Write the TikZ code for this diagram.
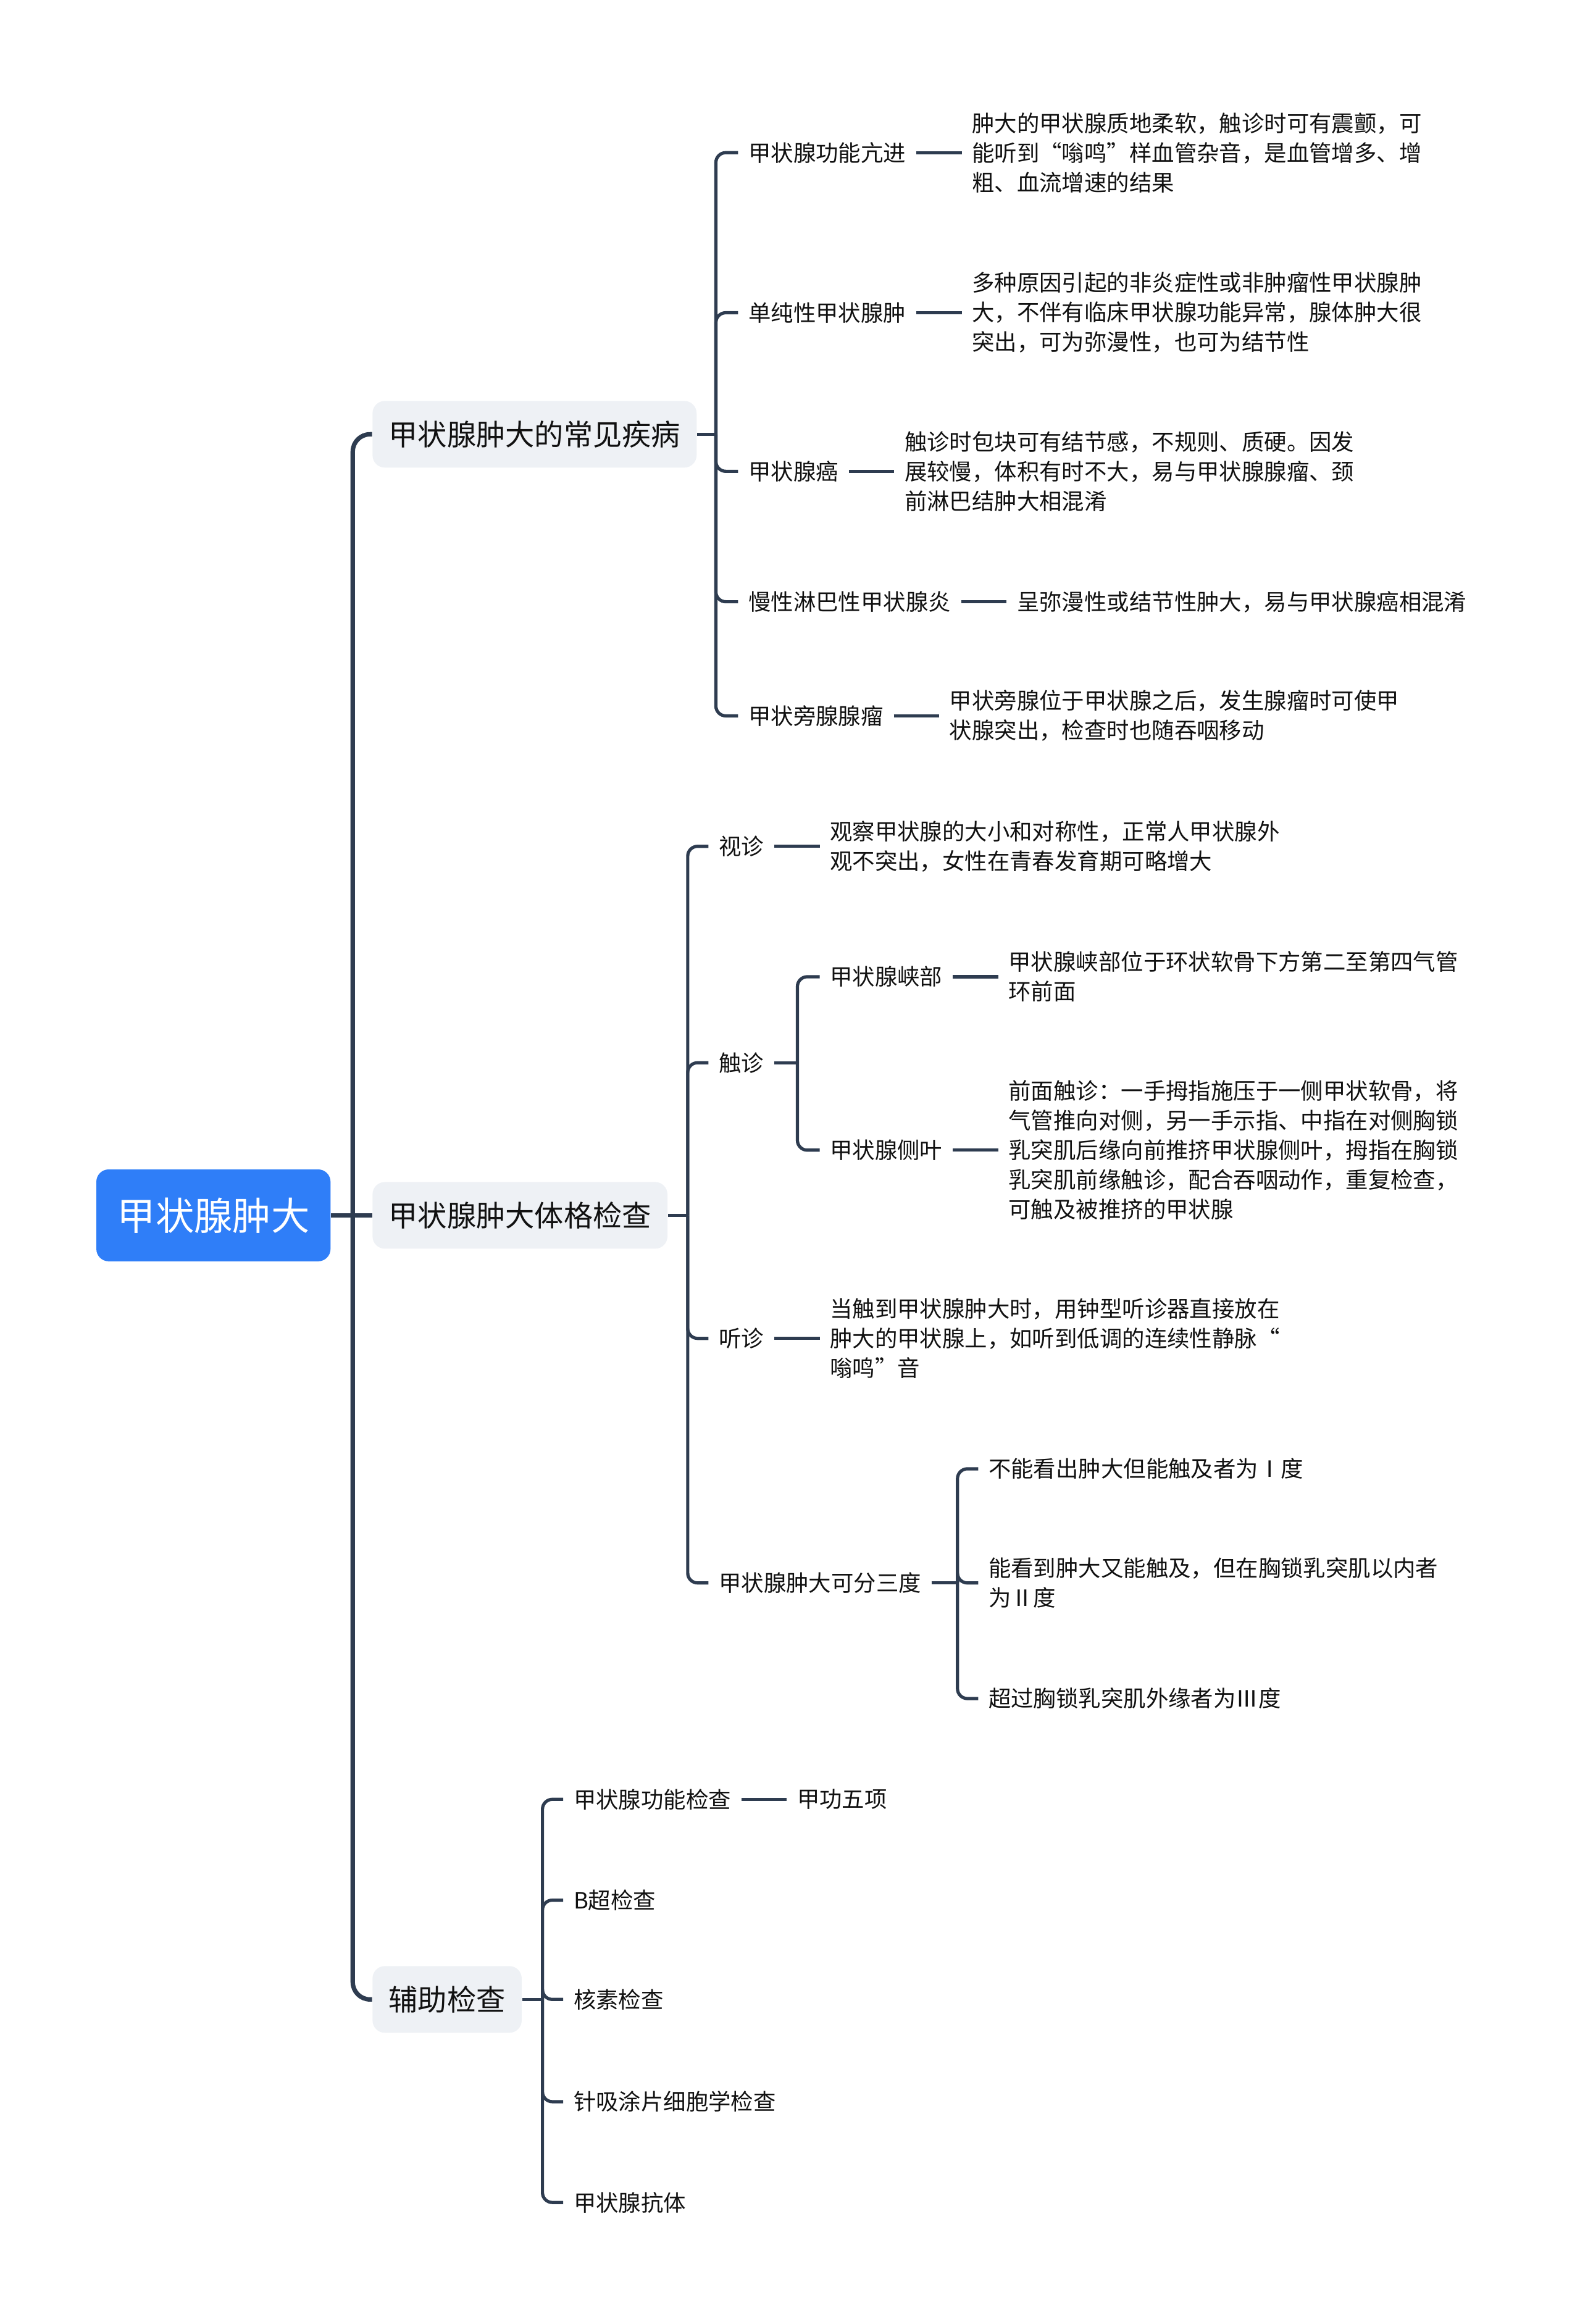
\documentclass[tikz,border=0pt]{standalone}
\usepackage{fontspec}
\setmainfont{Noto Sans CJK SC}
\usepackage{tikz}
\usetikzlibrary{positioning}
\definecolor{rootblue}{HTML}{2F7EF8}
\definecolor{topicgray}{HTML}{EEF1F5}
\definecolor{linkcolor}{HTML}{2E3C50}
\definecolor{inkcolor}{HTML}{111111}

\begin{document}
\begin{tikzpicture}[
      x=0.6pt, y=-0.6pt,
      node distance=18.4pt,
      rootnode/.style={fill=rootblue, text=white, rounded corners=5pt, minimum width=94.8pt, minimum height=37.2pt, font=\fontsize{15.6}{18}\selectfont},
      topic/.style={anchor=west, fill=topicgray, text=inkcolor, rounded corners=5pt, inner xsep=6.6pt, minimum height=27pt, font=\fontsize{11.8}{14}\selectfont},
      leaf/.style={anchor=west, text=inkcolor, inner xsep=4pt, inner ysep=2pt, align=left, font=\fontsize{9.1}{12}\selectfont},
      trunk/.style={draw=linkcolor, line width=1.8pt, rounded corners=7pt},
      branch/.style={draw=linkcolor, line width=1.3pt, rounded corners=4pt}
    ]
      \useasboundingbox (0,0) rectangle (1066,1568);

      \node[rootnode] (root) at (144,820) {甲状腺肿大};
      \node[topic] (ill) at (251,293) {甲状腺肿大的常见疾病};
      \node[topic] (exam) at (251,820) {甲状腺肿大体格检查};
      \node[topic] (aux) at (251,1349) {辅助检查};

      \coordinate (j0) at (238,820);
      \draw[trunk] (root.east) -- (j0);
      \draw[trunk] (j0) |- (ill.west);
      \draw[trunk] (j0) -- (exam.west);
      \draw[trunk] (j0) |- (aux.west);

      % common diseases
      \node[leaf] (hyper) at (498,103) {甲状腺功能亢进};
      \node[leaf, right=of hyper] (hyperd) {肿大的甲状腺质地柔软，触诊时可有震颤，可\\能听到“嗡鸣”样血管杂音，是血管增多、增\\粗、血流增速的结果};
      \node[leaf] (simple) at (498,211) {单纯性甲状腺肿};
      \node[leaf, right=of simple] (simpled) {多种原因引起的非炎症性或非肿瘤性甲状腺肿\\大，不伴有临床甲状腺功能异常，腺体肿大很\\突出，可为弥漫性，也可为结节性};
      \node[leaf] (cancer) at (498,318) {甲状腺癌};
      \node[leaf, right=of cancer] (cancerd) {触诊时包块可有结节感，不规则、质硬。因发\\展较慢，体积有时不大，易与甲状腺腺瘤、颈\\前淋巴结肿大相混淆};
      \node[leaf] (lympho) at (498,406) {慢性淋巴性甲状腺炎};
      \node[leaf, right=of lympho] (lymphod) {呈弥漫性或结节性肿大，易与甲状腺癌相混淆};
      \node[leaf] (para) at (498,483) {甲状旁腺腺瘤};
      \node[leaf, right=of para] (parad) {甲状旁腺位于甲状腺之后，发生腺瘤时可使甲\\状腺突出，检查时也随吞咽移动};

      \coordinate (j1) at (483,293);
      \draw[branch] (ill.east) -- (j1);
      \foreach \c in {hyper, simple, cancer, lympho, para} {
        \draw[branch] (j1) |- (\c.west);
        \draw[branch] (\c.east) -- (\c d.west);
      }

      % physical examination
      \node[leaf] (vis) at (478,571) {视诊};
      \node[leaf, right=of vis] (visd) {观察甲状腺的大小和对称性，正常人甲状腺外\\观不突出，女性在青春发育期可略增大};
      \node[leaf] (palp) at (478,717) {触诊};
      \node[leaf] (ausc) at (478,903) {听诊};
      \node[leaf, right=of ausc] (auscd) {当触到甲状腺肿大时，用钟型听诊器直接放在\\肿大的甲状腺上，如听到低调的连续性静脉“\\嗡鸣”音};
      \node[leaf] (grade) at (478,1068) {甲状腺肿大可分三度};

      \coordinate (j2) at (464,820);
      \draw[branch] (exam.east) -- (j2);
      \foreach \c in {vis, palp, ausc, grade}
        \draw[branch] (j2) |- (\c.west);
      \draw[branch] (vis.east) -- (visd.west);
      \draw[branch] (ausc.east) -- (auscd.west);

      \node[leaf] (isth) at (553,659) {甲状腺峡部};
      \node[leaf, right=of isth] (isthd) {甲状腺峡部位于环状软骨下方第二至第四气管\\环前面};
      \node[leaf] (lobe) at (553,776) {甲状腺侧叶};
      \node[leaf, right=of lobe] (lobed) {前面触诊：一手拇指施压于一侧甲状软骨，将\\气管推向对侧，另一手示指、中指在对侧胸锁\\乳突肌后缘向前推挤甲状腺侧叶，拇指在胸锁\\乳突肌前缘触诊，配合吞咽动作，重复检查，\\可触及被推挤的甲状腺};

      \coordinate (j3) at (538,717);
      \draw[branch] (palp.east) -- (j3);
      \draw[branch] (j3) |- (isth.west);
      \draw[branch] (j3) |- (lobe.west);
      \draw[branch] (isth.east) -- (isthd.west);
      \draw[branch] (lobe.east) -- (lobed.west);

      \node[leaf] (g1) at (660,991) {不能看出肿大但能触及者为Ⅰ度};
      \node[leaf] (g2) at (660,1068) {能看到肿大又能触及，但在胸锁乳突肌以内者\\为Ⅱ度};
      \node[leaf] (g3) at (660,1146) {超过胸锁乳突肌外缘者为Ⅲ度};

      \coordinate (j4) at (646,1068);
      \draw[branch] (grade.east) -- (j4);
      \foreach \c in {g1, g2, g3}
        \draw[branch] (j4) |- (\c.west);

      % auxiliary tests
      \node[leaf] (func) at (380,1214) {甲状腺功能检查};
      \node[leaf, right=of func] (five) {甲功五项};
      \node[leaf] (bus) at (380,1282) {B超检查};
      \node[leaf] (nucl) at (380,1349) {核素检查};
      \node[leaf] (fna) at (380,1418) {针吸涂片细胞学检查};
      \node[leaf] (abody) at (380,1486) {甲状腺抗体};

      \coordinate (j5) at (366,1349);
      \draw[branch] (aux.east) -- (j5);
      \foreach \c in {func, bus, nucl, fna, abody}
        \draw[branch] (j5) |- (\c.west);
      \draw[branch] (func.east) -- (five.west);
    \end{tikzpicture}
\end{document}
